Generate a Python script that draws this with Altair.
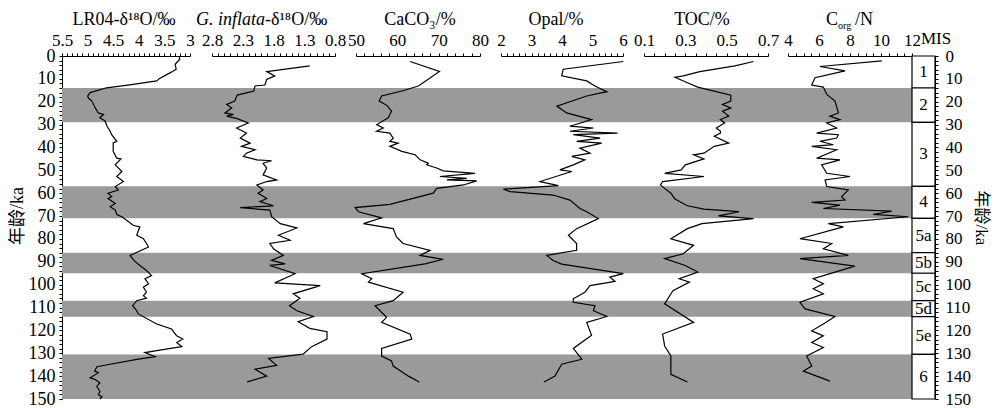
import altair as alt
import pandas as pd

# ---------------- data ----------------
lr04_ka = [0.4, 1.4, 3.6, 5.8, 6.8, 7.7, 9.9, 10.9, 12.7, 13.9, 16, 17.5, 18.5, 19.6, 22.7, 24.9, 25.6, 27, 28.4, 30.7,
           32.9, 34.4, 37.3, 38, 41.7, 44.7, 45, 47.6, 50.5, 52.7, 54.9, 57.1, 58.6, 60, 61.5, 62.3, 64.5, 65.9, 67.4, 69.3,
           70.3, 72.5, 74, 74.7, 78.4, 79.9, 82, 83.5, 87.2, 89.5, 91.6, 93.8, 96, 97.4, 99.6, 101.1, 103.3, 104.8, 105.9, 107,
           109.2, 111.4, 112.8, 117.2, 119.4, 122.4, 123.8, 125.3, 127.1, 128.6, 129.7, 131.5, 132.6, 134.8, 135.9, 137.8,
           138.5, 140.7, 141.4, 142.9, 144.4, 146.6, 148.1, 149, 150]
lr04_v = [3.21, 3.2, 3.29, 3.27, 3.34, 3.42, 3.6, 3.65, 4.21, 4.63, 4.95, 5.0, 4.98, 4.92, 4.85, 4.79, 4.69, 4.76, 4.66, 4.62,
          4.56, 4.53, 4.43, 4.5, 4.5, 4.43, 4.35, 4.46, 4.33, 4.43, 4.3, 4.46, 4.4, 4.6, 4.53, 4.6, 4.46, 4.56, 4.46, 4.43,
          4.33, 4.2, 4.11, 3.98, 4.04, 3.91, 3.85, 3.81, 4.17, 4.09, 3.98, 3.85, 3.75, 3.88, 3.81, 3.91, 3.85, 3.91, 3.85, 4.04,
          4.12, 4.04, 4.01, 3.65, 3.36, 3.26, 3.14, 3.26, 3.16, 3.59, 3.88, 3.68, 4.01, 4.56, 4.82, 4.86,
          4.79, 4.95, 4.86, 4.76, 4.82, 4.76, 4.79, 4.72, 4.76]

infl_ka = [4.3, 6.8, 8.7, 10.2, 12.7, 13.1, 15.3, 17.1, 19.7, 21.2, 22.7, 24.9, 25.6, 26.3, 27.4, 29.3, 31.5, 33.7, 35.9, 38.1,
           39.5, 41, 42.5, 43.9, 45.4, 45.8, 46.9, 49, 52, 54.2, 54.9, 56.4, 58.6, 60, 62.3, 63.7, 65.5, 66.3, 67.4, 70.3,
           73.3, 75.2, 78.4, 80.6, 82, 84.3, 87.2, 89.4, 90.9, 91.6, 95.2, 99.2, 100.4, 104, 105.9, 109.2, 111.4, 113.9, 116.2,
           119.1, 120.6, 123.8, 127.1, 130.4, 132.3, 135.3, 137, 140, 142.5]
infl_v = [1.21, 1.91, 1.78, 1.91, 1.94, 2.1, 2.12, 2.39, 2.43, 2.56, 2.48, 2.59, 2.45, 2.56, 2.39, 2.21, 2.4, 2.24, 2.34, 2.18,
          2.32, 2.1, 2.24, 2.29, 2.07, 1.83, 1.97, 1.91, 1.97, 1.75, 1.91, 2.07, 1.97, 2.05, 1.91, 2.02, 1.8, 2.34, 1.86, 1.83,
          1.69, 1.42, 1.72, 1.53, 1.86, 1.8, 1.64, 1.83, 1.61, 1.86, 1.45, 1.78, 1.04, 1.48, 1.37, 1.54, 1.42, 1.15, 1.4,
          1.21, 0.93, 0.93, 1.18, 1.32, 1.88, 1.75, 2.1, 1.91, 2.23]

caco3_ka = [2.4, 6.8, 13.1, 15.3, 17.5, 19.7, 21.5, 24.1, 27, 30, 31.5, 32.9, 33.7, 35.9, 37.3, 38.1, 39.5, 41.7, 43.2, 45.4,
            46.9, 47.6, 49, 50.2, 51.3, 52.7, 53.5, 54.2, 54.6, 56.4, 57.9, 60, 64.9, 66.3, 68.1, 70.8, 73.3, 75.5, 79.1, 82,
            85, 87.2, 88.9, 90.9, 95.2, 97.4, 98.9, 103.3, 107, 109.2, 114.3, 116.5, 121.7, 123.8, 127.9, 131.2, 133.4, 135.6,
            140, 142.6]
caco3_v = [63.1, 70.2, 65.1, 61.1, 56.2, 55.6, 57.4, 58.6, 57.8, 55, 56.6, 55, 58.2, 59, 58.2, 60.2, 58.2, 61.1, 64.3, 65.5,
           67.5, 67.1, 69.5, 71.1, 78.8, 70.3, 76.8, 72, 79.2, 76, 69.5, 68.7, 58.2, 49.8, 50.6, 56.2, 51.8, 59, 59.8, 61.4,
           67.9, 65.5, 71.1, 66.7, 51.4, 53.8, 53, 61.4, 59, 54.6, 57.4, 56.2, 63.1, 63.5, 56.2, 56.2, 58.6, 59,
           62.7, 65.3]

opal_ka = [2.4, 5.8, 8.7, 10.9, 13.1, 15.6, 17.5, 21.9, 24.9, 27.8, 30.7, 31.5, 32.9, 33.7, 34.4, 35.9, 37.3, 38.1, 40.3, 42.5,
           43.9, 45.4, 47.6, 49.8, 50.5, 54.9, 56.7, 58.2, 59.3, 60.8, 63, 66.7, 68.1, 71.1, 75.5, 78.4, 82, 85, 87.2, 89.4,
           91, 95.2, 96.7, 98.6, 100.4, 103.3, 106.2, 107.7, 109.2, 111.4, 113.9, 116.5, 122.1, 127.9, 132.6, 134.8, 140, 142.6]
opal_v = [6.01, 4.04, 3.99, 4.81, 5.08, 5.47, 4.81, 3.83, 4.15, 4.97, 4.26, 5.03, 4.26, 5.82, 4.37, 5.25, 4.48, 5.3, 4.59, 4.92,
          4.32, 4.75, 4.37, 3.93, 4.32, 3.28, 3.88, 2.08, 2.3, 3.71, 4.26, 4.59, 4.81, 5.19, 4.48, 4.21, 4.48, 4.48, 3.5, 3.71,
          3.99, 6.01, 5.57, 5.74, 4.92, 4.75, 4.37, 4.37, 5.08, 5.03, 5.47, 4.81, 4.97, 4.37, 4.65, 3.99, 3.77, 3.41]

toc_ka = [2.4, 4.3, 6.8, 8.7, 9.3, 11.7, 13.6, 17.1, 19.7, 21.2, 22.7, 24.1, 26.3, 27.8, 29.3, 31.5, 32.9, 33.7, 35.1, 38.1,
          39.5, 42.5, 43.2, 45, 47.6, 49.8, 51.3, 52.7, 54.9, 56.4, 57.9, 60, 62.6, 65.5, 67, 68.1, 69.9, 71.1, 73.3, 75.5,
          79.9, 82.8, 86.5, 88.6, 91.6, 94.5, 97.4, 98.9, 102.6, 105.5, 108.4, 116.5, 121.6, 126.8, 131.2, 139.2, 142.6]
toc_v = [0.63, 0.54, 0.37, 0.29, 0.25, 0.31, 0.36, 0.52, 0.52, 0.48, 0.52, 0.48, 0.51, 0.47, 0.49, 0.45, 0.47, 0.47, 0.44, 0.51,
         0.44, 0.39, 0.34, 0.39, 0.3, 0.28, 0.2, 0.39, 0.19, 0.18, 0.2, 0.23, 0.25, 0.31, 0.39, 0.56, 0.46, 0.63, 0.38, 0.31,
         0.23, 0.34, 0.29, 0.2, 0.3, 0.36, 0.27, 0.32, 0.24, 0.22, 0.2, 0.34, 0.19, 0.2, 0.23, 0.23, 0.31]

cn_ka = [2.1, 4.6, 6.5, 9.5, 12.7, 13.6, 16.8, 19.7, 24.9, 26.3, 27.8, 29.3, 31.5, 33.7, 34.4, 35.9, 37.3, 38.8, 39.5, 41,
         44.7, 45.4, 47.6, 51.3, 52.7, 54.2, 57.1, 58.6, 61.5, 63, 64, 65.2, 66.7, 67.8, 69.3, 70.3, 73.3, 74.7, 79.9, 82,
         84.3, 87.2, 88.6, 91.9, 97.4, 99.6, 101.8, 104, 107.7, 110.6, 113.9, 117.2, 120.2, 122.4, 125.3, 127.5, 131.2,
         135.6, 137.8, 142.2]
cn_v = [10.05, 6.06, 7.68, 5.74, 5.53, 6.28, 6.5, 7.03, 7.25, 6.71, 7.35, 6.5, 7.14, 5.85, 7.25, 7.14, 6.06, 6.92, 5.53, 7.14,
        5.85, 7.35, 6.17, 6.5, 8.0, 6.39, 6.5, 7.89, 7.46, 7.68, 5.53, 7.35, 6.28, 10.69, 9.5, 11.76, 6.6, 7.57, 4.77, 6.82,
        6.28, 7.89, 4.77, 8.32, 5.63, 6.28, 5.63, 6.28, 4.77, 5.1, 7.03, 6.28, 5.53, 6.28, 5.53, 6.28, 5.2,
        5.53, 4.99, 6.71]

# glacial (shaded) stages: start / end ages (ka)
band_start = [14, 57, 86, 107, 130.5]
band_end = [29, 71, 95, 114, 150]

# MIS column
mis_labels = ["1", "2", "3", "4", "5a", "5b", "5c", "5d", "5e", "6"]
mis_start = [0, 14, 29, 57, 71, 86, 95, 107, 114, 130.5]
mis_end = [14, 29, 57, 71, 86, 95, 107, 114, 130.5, 150]

# ---------------- layout / style ----------------
FONT = "Liberation Serif"
CJK = "Liberation Serif, Noto Sans CJK SC"
W, H = 873, 343
BAND_RIGHT = 850

y_scale = alt.Scale(domain=[0, 150], reverse=True, nice=False, zero=False)


def tick_values(lo, hi, step, nd):
    n = int(round((hi - lo) / step))
    return [round(lo + i * step, nd) for i in range(n + 1)]


def panel(ka, v, domain, rng, step, majors, nd):
    df = pd.DataFrame({"ka": ka, "v": v})
    vals = tick_values(min(domain), max(domain), step, nd)
    maj = ",".join(repr(m) for m in majors)
    return alt.Chart(df).mark_line(color="black", strokeWidth=1.2).encode(
        x=alt.X("v:Q",
                scale=alt.Scale(domain=domain, range=rng, nice=False, zero=False),
                axis=alt.Axis(orient="top", values=vals, format="~g",
                              labelExpr=f"indexof([{maj}], datum.value) >= 0 ? datum.label : ''",
                              title=None, grid=False, tickSize=3, labelPadding=4,
                              labelFlush=False, labelOverlap=False,
                              domainColor="black", tickColor="black", domainWidth=1,
                              labelFont=FONT, labelFontSize=17, labelColor="black")),
        y=alt.Y("ka:Q", scale=y_scale, axis=None),
        order=alt.Order("ka:Q"),
    )


layers = []

band_df = pd.DataFrame({"s": band_start, "e": band_end})
bands = alt.Chart(band_df).mark_rect(color="#9a9a9a").encode(
    y=alt.Y("s:Q", scale=y_scale,
            axis=alt.Axis(orient="left", values=list(range(0, 151, 2)),
                          labelExpr="datum.value % 10 == 0 ? datum.label : ''",
                          title=None, grid=False, tickSize=3, labelPadding=4,
                          labelOverlap=False, labelFlush=False,
                          domainColor="black", tickColor="black",
                          labelFont=FONT, labelFontSize=18, labelColor="black")),
    y2="e:Q",
    x=alt.value(0), x2=alt.value(BAND_RIGHT),
)
layers.append(bands)

layers.append(panel(lr04_ka, lr04_v, [5.5, 3], [0, 128], 0.1, [5.5, 5, 4.5, 4, 3.5, 3], 1))
layers.append(panel(infl_ka, infl_v, [2.8, 0.8], [150, 273], 0.1, [2.8, 2.3, 1.8, 1.3, 0.8], 1))
layers.append(panel(caco3_ka, caco3_v, [50, 80], [294, 418], 2, [50, 60, 70, 80], 0))
layers.append(panel(opal_ka, opal_v, [2, 6], [439, 561], 0.2, [2, 3, 4, 5, 6], 1))
layers.append(panel(toc_ka, toc_v, [0.1, 0.7], [582, 706], 0.05, [0.1, 0.3, 0.5, 0.7], 2))
layers.append(panel(cn_ka, cn_v, [4, 12], [726, 850], 0.5, [4, 6, 8, 10, 12], 1))

mis_df = pd.DataFrame({"s": mis_start, "e": mis_end, "lab": mis_labels,
                       "mid": [(a + b) / 2 for a, b in zip(mis_start, mis_end)]})
mis_box = alt.Chart(mis_df).mark_rect(fill="white", stroke="black", strokeWidth=1.2).encode(
    y=alt.Y("s:Q", scale=y_scale,
            axis=alt.Axis(orient="right", values=list(range(0, 151, 2)),
                          labelExpr="datum.value % 10 == 0 ? datum.label : ''",
                          title=None, grid=False, tickSize=3, labelPadding=7,
                          labelOverlap=False, labelFlush=False,
                          domainColor="black", tickColor="black",
                          labelFont=FONT, labelFontSize=17, labelColor="black")),
    y2="e:Q",
    x=alt.value(BAND_RIGHT), x2=alt.value(W),
)
layers.append(mis_box)

mis_text = alt.Chart(mis_df).mark_text(font=FONT, fontSize=17, color="black", baseline="middle").encode(
    y=alt.Y("mid:Q", scale=y_scale, axis=None),
    text="lab:N",
    x=alt.value((BAND_RIGHT + W) / 2),
)
layers.append(mis_text)


def label(text, x, y, size=18, align="center", style="normal", angle=0, baseline="alphabetic", font=FONT):
    return alt.Chart(alt.Data(values=[{"a": 1}])).mark_text(
        text=text, font=font, fontSize=size, align=align, baseline=baseline,
        fontStyle=style, angle=angle, color="black").encode(x=alt.value(x), y=alt.value(y))


TY = -31
layers += [
    label("LR04-δ¹⁸O/‰", 62, TY),
    label("G. inflata", 203, TY, align="right", style="italic"),
    label("-δ¹⁸O/‰", 203, TY, align="left"),
    label("CaCO₃/%", 358, TY),
    label("Opal/%", 494, TY),
    label("TOC/%", 640, TY),
    label("C", 776, TY, align="right"),
    label("org", 776, TY + 4, size=10, align="left"),
    label("/N", 793, TY, align="left"),
    label("MIS", 859, -12, size=17, align="left"),
    label("年龄/ka", -44, 160, angle=270, baseline="middle", font=CJK),
    label("年龄/ka", 919, 162, size=17, angle=90, baseline="middle", font=CJK),
]

chart = (
    alt.layer(*layers)
    .resolve_scale(x="independent")
    .resolve_axis(x="independent", y="independent")
    .properties(width=W, height=H,
                autosize=alt.AutoSizeParams(type="none"),
                padding={"left": 54, "top": 48, "right": 57, "bottom": 8})
    .configure_view(stroke=None)
)

chart.save("out.html", embed_options={"renderer": "svg", "actions": False})
